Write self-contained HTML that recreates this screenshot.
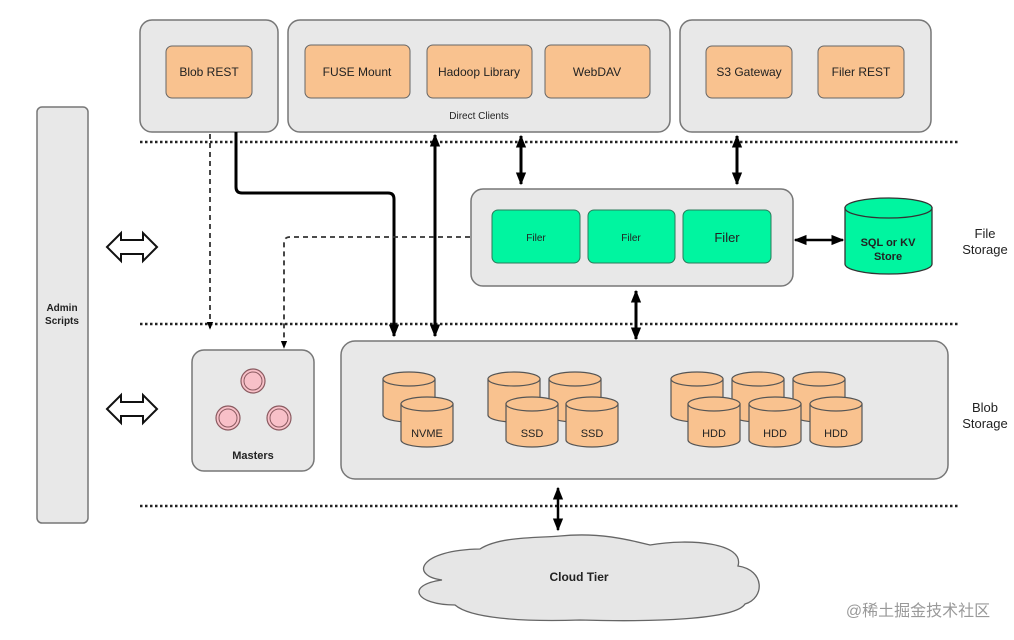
<!DOCTYPE html>
<html><head><meta charset="utf-8"><style>
html,body{margin:0;padding:0;background:#fff;width:1014px;height:640px;overflow:hidden}
text{font-family:"Liberation Sans",Arial,sans-serif;fill:#222}
</style></head><body>
<svg width="1014" height="640" viewBox="0 0 1014 640" xmlns="http://www.w3.org/2000/svg">
<defs>
<g id="cyl">
<path d="M0,7 V43 A26,7 0 0 0 52,43 V7 Z" fill="#f9c28f" stroke="#555" stroke-width="1.2"/>
<ellipse cx="26" cy="7" rx="26" ry="7" fill="#f9c28f" stroke="#555" stroke-width="1.2"/>
</g>
<marker id="ah" viewBox="0 0 10 10" refX="9" refY="5" markerUnits="userSpaceOnUse" markerWidth="8" markerHeight="8" orient="auto-start-reverse"><path d="M0,1 L10,5 L0,9 Z" fill="#000"/></marker>
<marker id="ahs" viewBox="0 0 10 10" refX="9" refY="5" markerUnits="userSpaceOnUse" markerWidth="13" markerHeight="13" orient="auto-start-reverse"><path d="M0,1 L10,5 L0,9 Z" fill="#000"/></marker>
</defs>

<rect x="37" y="107" width="51" height="416" rx="5" fill="#e8e8e8" stroke="#777" stroke-width="1.5"/>
<text x="62" y="311" font-size="10" font-weight="bold" text-anchor="middle">Admin</text>
<text x="62" y="324" font-size="10" font-weight="bold" text-anchor="middle">Scripts</text>

<rect x="140" y="20" width="138" height="112" rx="12" fill="#e8e8e8" stroke="#777" stroke-width="1.5"/>
<rect x="166" y="46" width="86" height="52" rx="6" fill="#f9c28f" stroke="#666"/>
<text x="209" y="76" font-size="12" text-anchor="middle">Blob REST</text>

<rect x="288" y="20" width="382" height="112" rx="12" fill="#e8e8e8" stroke="#777" stroke-width="1.5"/>
<rect x="305" y="45" width="105" height="53" rx="6" fill="#f9c28f" stroke="#666"/>
<rect x="427" y="45" width="105" height="53" rx="6" fill="#f9c28f" stroke="#666"/>
<rect x="545" y="45" width="105" height="53" rx="6" fill="#f9c28f" stroke="#666"/>
<text x="357" y="76" font-size="12" text-anchor="middle">FUSE Mount</text>
<text x="479" y="76" font-size="12" text-anchor="middle">Hadoop Library</text>
<text x="597" y="76" font-size="12" text-anchor="middle">WebDAV</text>
<text x="479" y="119" font-size="10" text-anchor="middle">Direct Clients</text>

<rect x="680" y="20" width="251" height="112" rx="12" fill="#e8e8e8" stroke="#777" stroke-width="1.5"/>
<rect x="706" y="46" width="86" height="52" rx="6" fill="#f9c28f" stroke="#666"/>
<rect x="818" y="46" width="86" height="52" rx="6" fill="#f9c28f" stroke="#666"/>
<text x="749" y="76" font-size="12" text-anchor="middle">S3 Gateway</text>
<text x="861" y="76" font-size="12" text-anchor="middle">Filer REST</text>

<g stroke="#222" stroke-width="2.5" stroke-dasharray="2.5,2.5">
<line x1="140" y1="142" x2="958" y2="142"/>
<line x1="140" y1="324" x2="958" y2="324"/>
<line x1="140" y1="506" x2="958" y2="506"/>
</g>

<rect x="471" y="189" width="322" height="97" rx="12" fill="#e8e8e8" stroke="#777" stroke-width="1.5"/>
<rect x="492" y="210" width="88" height="53" rx="6" fill="#00f5a0" stroke="#2a7a5a"/>
<rect x="588" y="210" width="87" height="53" rx="6" fill="#00f5a0" stroke="#2a7a5a"/>
<rect x="683" y="210" width="88" height="53" rx="6" fill="#00f5a0" stroke="#2a7a5a"/>
<text x="536" y="241" font-size="10" text-anchor="middle">Filer</text>
<text x="631" y="241" font-size="10" text-anchor="middle">Filer</text>
<text x="727" y="242" font-size="13" text-anchor="middle">Filer</text>

<path d="M845,208 V264 A43.5,10 0 0 0 932,264 V208 Z" fill="#00f5a0" stroke="#333" stroke-width="1.3"/>
<ellipse cx="888.5" cy="208" rx="43.5" ry="10" fill="#00f5a0" stroke="#333" stroke-width="1.3"/>
<text x="888" y="246" font-size="11" font-weight="bold" text-anchor="middle">SQL or KV</text>
<text x="888" y="260" font-size="11" font-weight="bold" text-anchor="middle">Store</text>

<text x="985" y="238" font-size="13" text-anchor="middle">File</text>
<text x="985" y="254" font-size="13" text-anchor="middle">Storage</text>
<text x="985" y="412" font-size="13" text-anchor="middle">Blob</text>
<text x="985" y="428" font-size="13" text-anchor="middle">Storage</text>

<rect x="192" y="350" width="122" height="121" rx="12" fill="#e8e8e8" stroke="#777" stroke-width="1.5"/>
<g fill="#f8c0c8" stroke="#8a5a60" stroke-width="1.2">
<circle cx="253" cy="381" r="12"/><circle cx="228" cy="418" r="12"/><circle cx="279" cy="418" r="12"/>
</g>
<g fill="none" stroke="#8a5a60" stroke-width="1"><circle cx="253" cy="381" r="9"/><circle cx="228" cy="418" r="9"/><circle cx="279" cy="418" r="9"/></g>
<text x="253" y="459" font-size="11" font-weight="bold" text-anchor="middle">Masters</text>

<rect x="341" y="341" width="607" height="138" rx="14" fill="#e8e8e8" stroke="#777" stroke-width="1.5"/>
<use href="#cyl" x="383" y="372"/><use href="#cyl" x="401" y="397"/>
<use href="#cyl" x="488" y="372"/><use href="#cyl" x="549" y="372"/>
<use href="#cyl" x="506" y="397"/><use href="#cyl" x="566" y="397"/>
<use href="#cyl" x="671" y="372"/><use href="#cyl" x="732" y="372"/><use href="#cyl" x="793" y="372"/>
<use href="#cyl" x="688" y="397"/><use href="#cyl" x="749" y="397"/><use href="#cyl" x="810" y="397"/>
<g font-size="11" text-anchor="middle">
<text x="427" y="437">NVME</text>
<text x="532" y="437">SSD</text><text x="592" y="437">SSD</text>
<text x="714" y="437">HDD</text><text x="775" y="437">HDD</text><text x="836" y="437">HDD</text>
</g>

<path d="M480,549 C500,536 540,538 560,536 C600,532 630,540 650,545 C690,538 745,543 738,566 C765,570 765,598 745,604 C735,620 650,622 580,620 C520,622 470,618 455,605 C415,605 405,585 442,580 C410,576 418,550 480,549 Z" fill="#e6e6e6" stroke="#666" stroke-width="1.3"/>
<text x="579" y="581" font-size="12" font-weight="bold" text-anchor="middle">Cloud Tier</text>

<g fill="#fff" stroke="#111" stroke-width="2">
<path d="M107,247 L121,233 V240 H143 V233 L157,247 L143,261 V254 H121 V261 Z"/>
<path d="M107,409 L121,395 V402 H143 V395 L157,409 L143,423 V416 H121 V423 Z"/>
</g>

<g stroke="#000" stroke-width="3" fill="none">
<path d="M236,132 V187 Q236,193 242,193 H388 Q394,193 394,199 V336" marker-end="url(#ahs)"/>
<path d="M435,135 V336" marker-start="url(#ahs)" marker-end="url(#ahs)"/>
<path d="M521,136 V184" marker-start="url(#ahs)" marker-end="url(#ahs)"/>
<path d="M737,136 V184" marker-start="url(#ahs)" marker-end="url(#ahs)"/>
<path d="M636,291 V339" marker-start="url(#ahs)" marker-end="url(#ahs)"/>
<path d="M795,240 H843" stroke-width="2.5" marker-start="url(#ahs)" marker-end="url(#ahs)"/>
<path d="M558,488 V530" stroke-width="2.5" marker-start="url(#ahs)" marker-end="url(#ahs)"/>
</g>

<g stroke="#333" stroke-width="1.8" fill="none" stroke-dasharray="5,4">
<path d="M210,134 V329" marker-end="url(#ah)"/>
<path d="M470,237 H290 Q284,237 284,243 V348" marker-end="url(#ah)"/>
</g>

<text x="918" y="616" font-size="16" text-anchor="middle" style="fill:#999;font-family:'Liberation Sans','Noto Sans CJK SC',sans-serif">@稀土掘金技术社区</text>
</svg>
</body></html>
